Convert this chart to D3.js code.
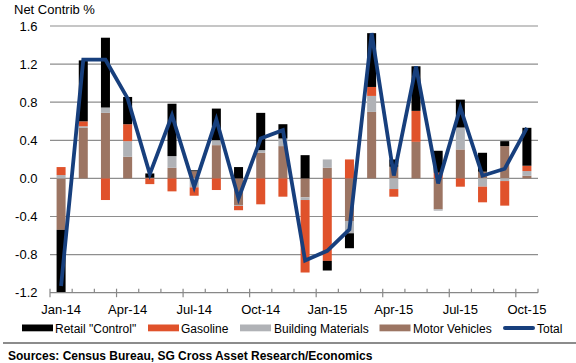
<!DOCTYPE html>
<html>
<head>
<meta charset="utf-8">
<script src="https://cdn.jsdelivr.net/npm/d3@7/dist/d3.min.js"></script>
<style>
  body { margin: 0; background: #fff; }
  svg { display: block; font-family: Arial, "Liberation Sans", sans-serif; }
</style>
</head>
<body>
<svg id="chart" width="576" height="363"></svg>
<script>
// months shown on the x axis
var months = ["Jan-14","Feb-14","Mar-14","Apr-14","May-14","Jun-14","Jul-14","Aug-14","Sep-14","Oct-14","Nov-14","Dec-14",
              "Jan-15","Feb-15","Mar-15","Apr-15","May-15","Jun-15","Jul-15","Aug-15","Sep-15","Oct-15"];
var tickLabels = ["Jan-14","Apr-14","Jul-14","Oct-14","Jan-15","Apr-15","Jul-15","Oct-15"];
var yTicks = [-1.2, -0.8, -0.4, 0.0, 0.4, 0.8, 1.2, 1.6];

// contributions
var control  = [-0.656, 0.64, 0.733, 0.286, 0.045, 0.55, 0.01, 0.332, 0.119, 0.391, 0.15, 0.244,
                -0.101, -0.157, 0.565, 0.077, 0.468, 0.23, 0.293, 0.199, 0.052, 0.398];
var gasoline = [0.084, 0.052, -0.227, 0.178, -0.06, -0.136, -0.088, -0.122, -0.045, -0.272, -0.192, -0.761,
                -0.866, 0.199, 0.094, -0.08, 0.325, 0.06, -0.087, -0.164, -0.258, 0.056];
var building = [0.035, 0.017, 0.056, 0.164, 0.007, 0.122, -0.094, 0.052, -0.01, 0.028, 0.08, -0.028,
                0.087, -0.129, 0.168, -0.112, 0, -0.014, 0.23, -0.087, -0.028, 0.049];
var motor    = [-0.54, 0.53, 0.688, 0.227, 0, 0.112, 0.075, 0.349, -0.279, 0.269, 0.339, -0.199,
                0.112, -0.447, 0.698, 0.122, 0.384, -0.325, 0.304, 0.07, 0.339, 0.028];
var total    = [-1.13, 1.246, 1.246, 0.84, 0.045, 0.663, -0.087, 0.618, -0.21, 0.419, 0.506, -0.862,
                -0.76, -0.534, 1.525, 0.03, 1.176, -0.052, 0.743, 0.028, 0.101, 0.53];

var series = [
  {key: "control",  name: "Retail \"Control\"",  color: "#000000", values: control},
  {key: "gasoline", name: "Gasoline",            color: "#E0522B", values: gasoline},
  {key: "building", name: "Building Materials",  color: "#B0B2B6", values: building},
  {key: "motor",    name: "Motor Vehicles",      color: "#9C7563", values: motor}
];

var svg = d3.select("#chart");
var plotLeft = 50, plotRight = 538, plotTop = 26, plotBottom = 292.7;

var x = d3.scaleBand().domain(months).range([plotLeft, plotRight]).paddingInner(0.594).paddingOuter(0.297);
var xBand = d3.scaleBand().domain(months).range([plotLeft, plotRight]);
var y = d3.scaleLinear().domain([-1.2, 1.6]).range([plotBottom, plotTop]);

// gridlines
svg.append("g")
  .selectAll("line")
  .data(yTicks.filter(function(d) { return d > -1.2; }))
  .join("line")
  .attr("x1", plotLeft).attr("x2", plotRight)
  .attr("y1", function(d) { return y(d); }).attr("y2", function(d) { return y(d); })
  .attr("stroke", "#8e8e8e").attr("stroke-width", 1.2);

// y labels
svg.append("g")
  .selectAll("text")
  .data(yTicks)
  .join("text")
  .attr("x", 37.5)
  .attr("y", function(d) { return y(d); })
  .attr("dy", "0.36em")
  .attr("text-anchor", "end")
  .style("font-size", "13px")
  .attr("fill", "#000")
  .text(function(d) { return d.toFixed(1); });

// stacked bars, motor vehicles closest to zero
var table = months.map(function(m, i) {
  var row = {month: m};
  series.forEach(function(s) { row[s.key] = s.values[i]; });
  return row;
});
var stackOrder = ["motor", "building", "gasoline", "control"];
var stacked = d3.stack().keys(stackOrder).offset(d3.stackOffsetDiverging)(table);
var colorOf = {};
series.forEach(function(s) { colorOf[s.key] = s.color; });

svg.append("g")
  .selectAll("g")
  .data(stacked)
  .join("g")
  .attr("fill", function(d) { return colorOf[d.key]; })
  .selectAll("rect")
  .data(function(d) { return d; })
  .join("rect")
  .attr("x", function(d) { return x(d.data.month); })
  .attr("width", x.bandwidth())
  .attr("y", function(d) { return y(Math.max(d[0], d[1])); })
  .attr("height", function(d) { return Math.abs(y(d[0]) - y(d[1])); });

// x axis
var axisG = svg.append("g");
axisG.append("line")
  .attr("x1", plotLeft).attr("x2", plotRight)
  .attr("y1", plotBottom).attr("y2", plotBottom)
  .attr("stroke", "#888").attr("stroke-width", 1.2);
axisG.selectAll("line.tick")
  .data(d3.range(months.length + 1))
  .join("line")
  .attr("class", "tick")
  .attr("x1", function(i) { return plotLeft + i * xBand.step(); })
  .attr("x2", function(i) { return plotLeft + i * xBand.step(); })
  .attr("y1", plotBottom - 4)
  .attr("y2", function(i) { return i % 3 === 0 ? plotBottom + 4.5 : plotBottom; })
  .attr("stroke", "#888").attr("stroke-width", 1.2);
axisG.selectAll("text")
  .data(tickLabels)
  .join("text")
  .attr("x", function(d) { return xBand(d) + xBand.bandwidth() / 2; })
  .attr("y", 314)
  .attr("text-anchor", "middle")
  .style("font-size", "13px")
  .text(function(d) { return d; });

// total line
var line = d3.line()
  .x(function(d, i) { return xBand(months[i]) + xBand.bandwidth() / 2; })
  .y(function(d) { return y(d); });
svg.append("path")
  .datum(total)
  .attr("d", line)
  .attr("fill", "none")
  .attr("stroke", "#173F7D")
  .attr("stroke-width", 3.8)
  .attr("stroke-linejoin", "miter");

// title
svg.append("text")
  .attr("x", 14).attr("y", 13.5)
  .style("font-size", "13px")
  .text("Net Contrib %");

// legend
var legendItems = [
  {name: series[0].name, color: series[0].color, sx: 22, tx: 55},
  {name: series[1].name, color: series[1].color, sx: 148, tx: 181},
  {name: series[2].name, color: series[2].color, sx: 240, tx: 274},
  {name: series[3].name, color: series[3].color, sx: 379.5, tx: 413}
];
var legend = svg.append("g");
legend.selectAll("rect")
  .data(legendItems)
  .join("rect")
  .attr("x", function(d) { return d.sx; })
  .attr("y", 324.5)
  .attr("width", 31).attr("height", 6.8)
  .attr("fill", function(d) { return d.color; });
legend.selectAll("text")
  .data(legendItems)
  .join("text")
  .attr("x", function(d) { return d.tx; })
  .attr("y", 332.5)
  .style("font-size", "12px")
  .text(function(d) { return d.name; });
legend.append("line")
  .attr("x1", 505).attr("x2", 533)
  .attr("y1", 328).attr("y2", 328)
  .attr("stroke", "#173F7D").attr("stroke-width", 4)
  .attr("stroke-linecap", "round");
legend.append("text")
  .attr("x", 537).attr("y", 332.5)
  .style("font-size", "12px")
  .text("Total");

// source line
svg.append("line")
  .attr("x1", 3).attr("x2", 576)
  .attr("y1", 343).attr("y2", 343)
  .attr("stroke", "#666").attr("stroke-width", 1.5);
svg.append("text")
  .attr("x", 8).attr("y", 359.5)
  .style("font-size", "12px")
  .style("font-weight", "bold")
  .text("Sources: Census Bureau, SG Cross Asset Research/Economics");
</script>
</body>
</html>
